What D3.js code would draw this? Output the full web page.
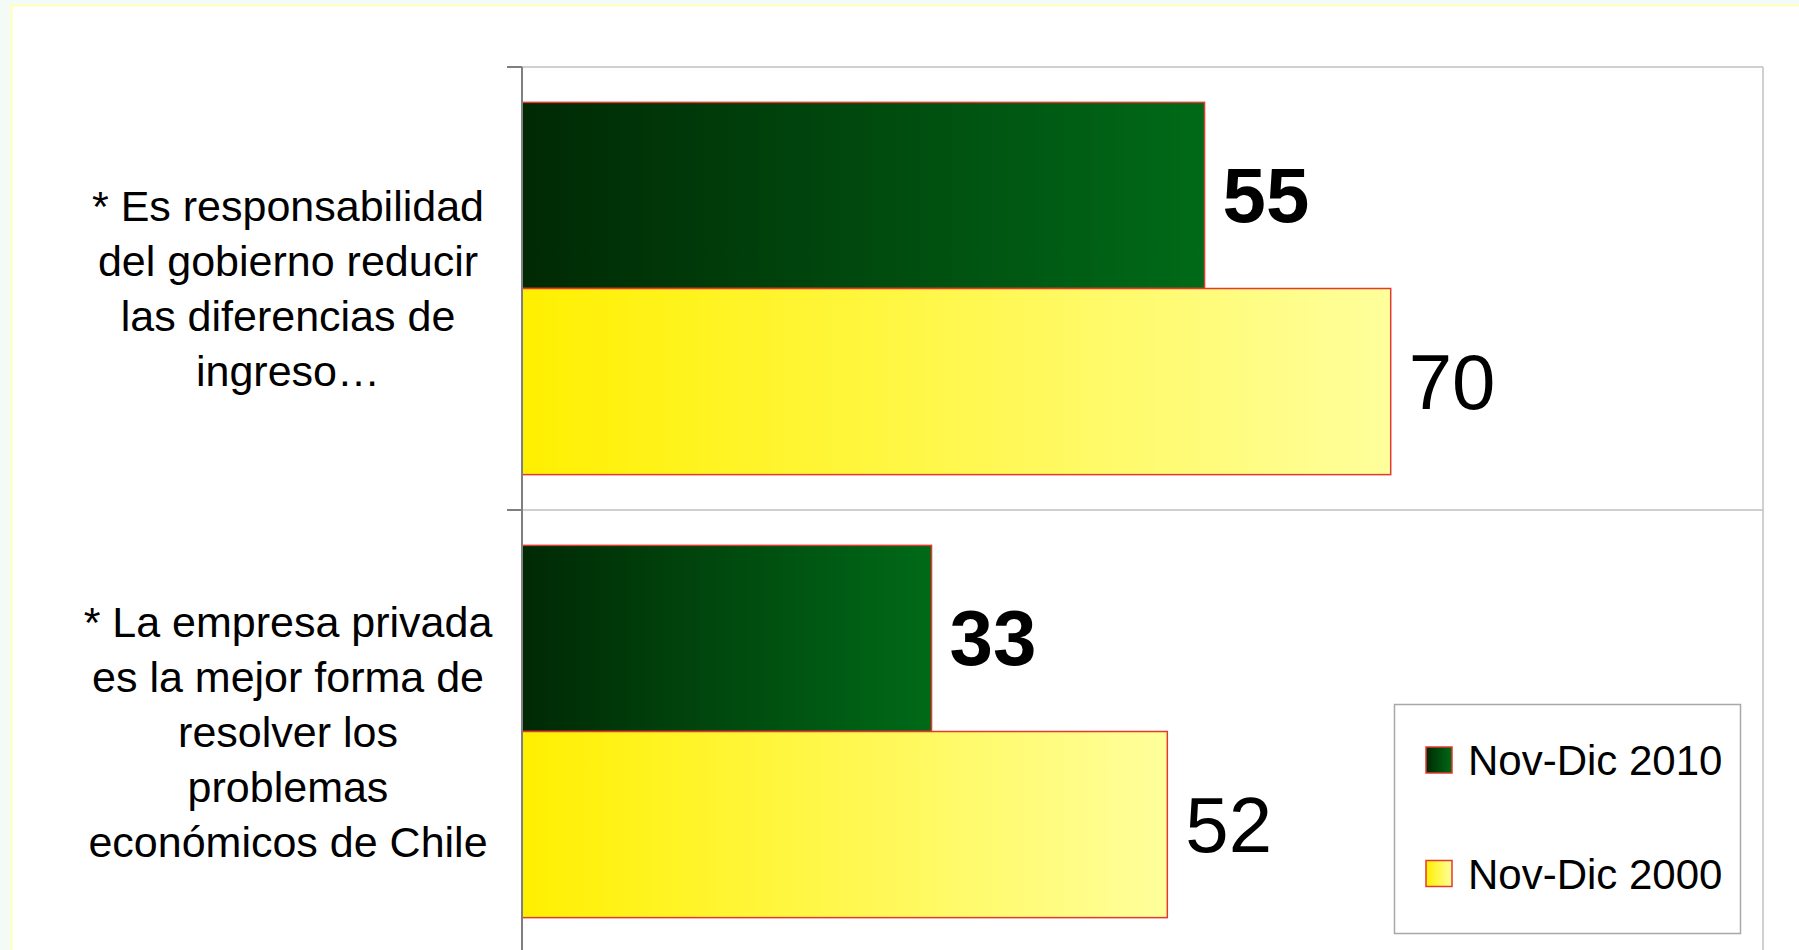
<!DOCTYPE html>
<meta charset="utf-8">

<head>
  <title>Opiniones sobre gobierno y empresa privada</title>
</head>

<style>
  body { margin: 0; background: #f4faf6; }
  svg { display: block; font-family: "Liberation Sans", Arial, sans-serif; }
</style>

<body>
  <svg width="1799" height="950"></svg>

  <script src="https://cdn.jsdelivr.net/npm/d3@7"></script>
  <script>
    // data
    var categories = [
      '* Es responsabilidad\ndel gobierno reducir\nlas diferencias de\ningreso…',
      '* La empresa privada\nes la mejor forma de\nresolver los\nproblemas\neconómicos de Chile'
    ];
    var seriesNames = ['Nov-Dic 2010', 'Nov-Dic 2000'];
    var values2010 = [55, 33];
    var values2000 = [70, 52];

    var seriesValues = [values2010, values2000];

    var svg = d3.select('svg');

    // gradients
    var defs = svg.append('defs');
    var grads = [
      { id: 'gGreen', from: '#002904', to: '#006a18' },
      { id: 'gYellow', from: '#fff000', to: '#ffff9c' }
    ];
    grads.forEach(function (g) {
      var lg = defs.append('linearGradient')
        .attr('id', g.id)
        .attr('x1', '0%').attr('x2', '100%')
        .attr('y1', '0%').attr('y2', '0%');
      lg.append('stop').attr('offset', '0%').attr('stop-color', g.from);
      lg.append('stop').attr('offset', '100%').attr('stop-color', g.to);
    });
    var fills = ['url(#gGreen)', 'url(#gYellow)'];

    // white sheet with pale yellow border
    svg.append('rect')
      .attr('x', 11.5).attr('y', 5.5)
      .attr('width', 1800).attr('height', 960)
      .attr('fill', '#ffffff')
      .attr('stroke', '#ffffb8')
      .attr('stroke-width', 2);

    var plotLeft = 522, plotRight = 1763, plotTop = 67, plotBottom = 953;

    var x = d3.scaleLinear().domain([0, 100]).range([plotLeft, plotRight]);

    var yCat = d3.scaleBand()
      .domain(d3.range(categories.length))
      .range([plotTop, plotBottom])
      .padding(0);

    var ySer = d3.scaleBand()
      .domain(d3.range(seriesNames.length))
      .range([0, yCat.bandwidth()])
      .paddingInner(0)
      .paddingOuter(0.19);

    // gridlines at category boundaries + plot frame
    var g = svg.append('g');
    g.selectAll('line.grid')
      .data(d3.range(categories.length))
      .enter()
      .append('line')
      .attr('class', 'grid')
      .attr('x1', plotLeft).attr('x2', plotRight)
      .attr('y1', function (d) { return yCat(d); })
      .attr('y2', function (d) { return yCat(d); })
      .attr('stroke', '#d0d0d0')
      .attr('stroke-width', 2);
    g.append('line')
      .attr('x1', plotRight).attr('x2', plotRight)
      .attr('y1', plotTop).attr('y2', plotBottom)
      .attr('stroke', '#c0c0c0')
      .attr('stroke-width', 1.5);

    // bars
    var flat = [];
    categories.forEach(function (c, ci) {
      seriesValues.forEach(function (vals, si) {
        flat.push({ ci: ci, si: si, v: vals[ci] });
      });
    });

    g.selectAll('rect.bar')
      .data(flat)
      .enter()
      .append('rect')
      .attr('class', 'bar')
      .attr('x', x(0))
      .attr('y', function (d) { return yCat(d.ci) + ySer(d.si); })
      .attr('width', function (d) { return x(d.v) - x(0); })
      .attr('height', ySer.bandwidth())
      .attr('fill', function (d) { return fills[d.si]; })
      .attr('stroke', '#e23a2c')
      .attr('stroke-width', 1.5);

    // value labels
    g.selectAll('text.val')
      .data(flat)
      .enter()
      .append('text')
      .attr('class', 'val')
      .attr('x', function (d) { return x(d.v) + 18; })
      .attr('y', function (d) { return yCat(d.ci) + ySer(d.si) + ySer.bandwidth() / 2 + 27; })
      .attr('font-size', 78)
      .attr('font-weight', function (d) { return d.si === 0 ? 'bold' : 'normal'; })
      .attr('fill', '#000')
      .text(function (d) { return d.v; });

    // category axis
    var axis = svg.append('g');
    axis.append('line')
      .attr('x1', plotLeft).attr('x2', plotLeft)
      .attr('y1', plotTop).attr('y2', plotBottom)
      .attr('stroke', '#7f7f7f')
      .attr('stroke-width', 2);
    axis.selectAll('line.tick')
      .data(d3.range(categories.length + 1))
      .enter()
      .append('line')
      .attr('class', 'tick')
      .attr('x1', plotLeft - 15).attr('x2', plotLeft)
      .attr('y1', function (d) { return plotTop + d * yCat.step(); })
      .attr('y2', function (d) { return plotTop + d * yCat.step(); })
      .attr('stroke', '#7f7f7f')
      .attr('stroke-width', 2);

    var lineH = 55;
    axis.selectAll('text.cat')
      .data(categories)
      .enter()
      .append('text')
      .attr('class', 'cat')
      .attr('text-anchor', 'middle')
      .attr('font-size', 43)
      .attr('fill', '#000')
      .each(function (d, i) {
        var lines = d.split('\n');
        var cy = yCat(i) + yCat.bandwidth() / 2;
        var y0 = cy - (lines.length - 1) * lineH / 2 + 15;
        var t = d3.select(this);
        lines.forEach(function (ln, k) {
          t.append('tspan')
            .attr('x', 288)
            .attr('y', y0 + k * lineH)
            .text(ln);
        });
      });

    // legend
    var leg = svg.append('g');
    leg.append('rect')
      .attr('x', 1394.5).attr('y', 704.5)
      .attr('width', 346).attr('height', 229)
      .attr('fill', '#fff')
      .attr('stroke', '#a8a8a8')
      .attr('stroke-width', 1.5);
    var legItems = leg.selectAll('g.item')
      .data(seriesNames)
      .enter()
      .append('g')
      .attr('class', 'item')
      .attr('transform', function (d, i) { return 'translate(1426,' + (747 + i * 113.5) + ')'; });
    legItems.append('rect')
      .attr('width', 26).attr('height', 26)
      .attr('fill', function (d, i) { return fills[i]; })
      .attr('stroke', '#e23a2c')
      .attr('stroke-width', 1.5);
    legItems.append('text')
      .attr('x', 42)
      .attr('y', 28)
      .attr('font-size', 42)
      .attr('fill', '#000')
      .text(function (d) { return d; });
  </script>
</body>

</html>
